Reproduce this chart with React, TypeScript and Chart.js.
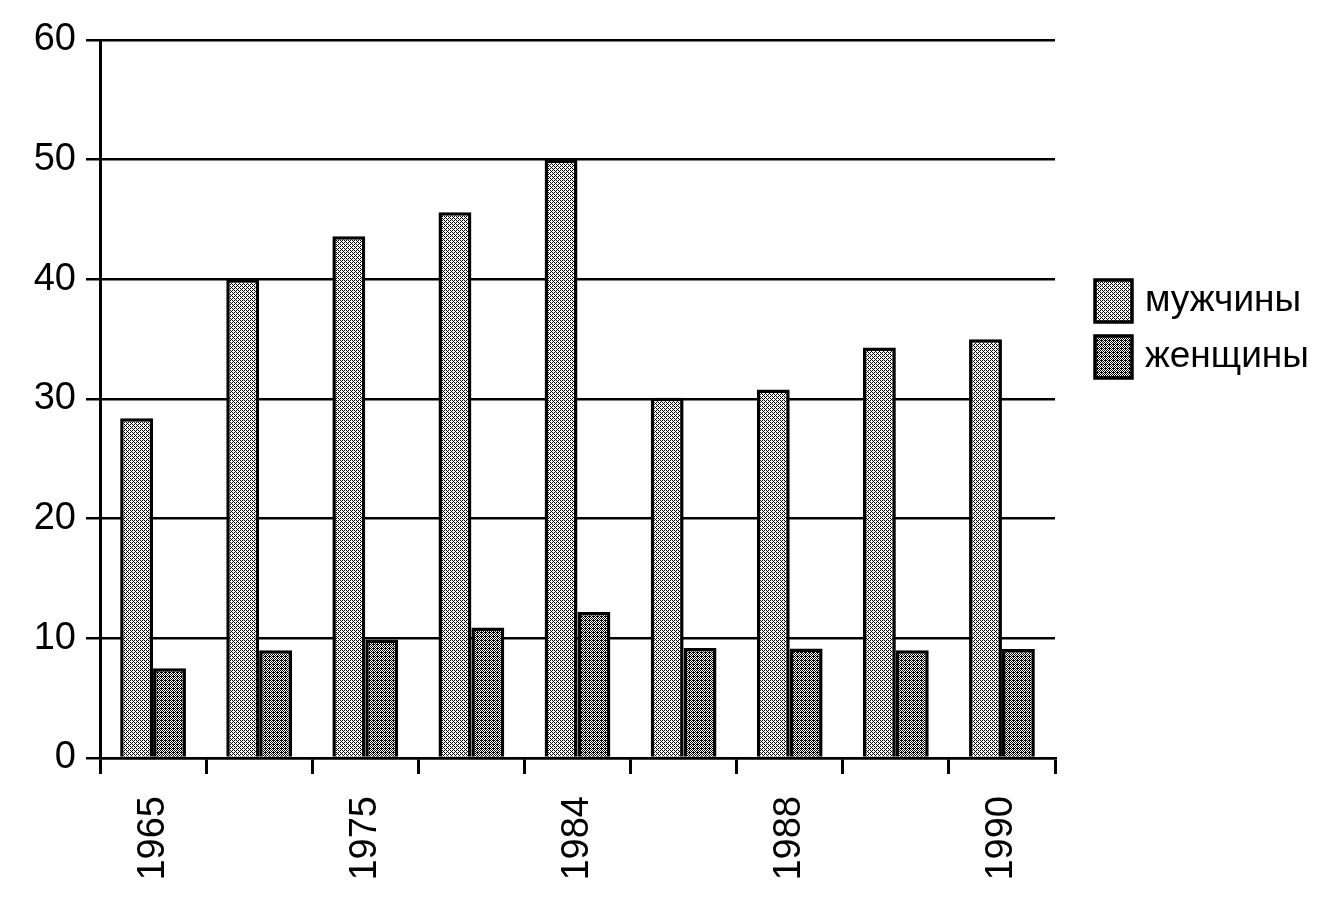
import React, { useEffect, useRef } from "react";
import { Chart, registerables } from "chart.js";

Chart.register(...registerables);

const categories = ["1965", "", "1975", "", "1984", "", "1988", "", "1990"];
const menValues = [28.4, 40, 43.6, 45.6, 50, 30.1, 30.8, 34.3, 35.0];
const womenValues = [7.5, 9.0, 9.9, 10.9, 12.2, 9.2, 9.15, 9.0, 9.1];
const seriesNames = ["мужчины", "женщины"];
const yTicks = [0, 10, 20, 30, 40, 50, 60];

const FONT = "'Liberation Sans', Arial, sans-serif";

function makePattern(threshold: number): CanvasPattern | string {
  const bayer = [
    [0, 8, 2, 10],
    [12, 4, 14, 6],
    [3, 11, 1, 9],
    [15, 7, 13, 5],
  ];
  const c = document.createElement("canvas");
  c.width = 4;
  c.height = 4;
  const ctx = c.getContext("2d");
  if (!ctx) return "#999";
  ctx.fillStyle = "#ffffff";
  ctx.fillRect(0, 0, 4, 4);
  ctx.fillStyle = "#000000";
  for (let y = 0; y < 4; y++) {
    for (let x = 0; x < 4; x++) {
      if (bayer[y][x] < threshold) ctx.fillRect(x, y, 1, 1);
    }
  }
  const p = ctx.createPattern(c, "repeat");
  return p || "#999";
}

export default function App() {
  const ref = useRef<HTMLCanvasElement | null>(null);

  useEffect(() => {
    if (!ref.current) return;
    const menFill = makePattern(6);
    const womenFill = makePattern(9);
    const fills = [menFill, womenFill];

    const legendPlugin = {
      id: "customLegend",
      afterDraw(chart: any) {
        const ctx = chart.ctx as CanvasRenderingContext2D;
        ctx.save();
        seriesNames.forEach((name, i) => {
          const bx = 1095;
          const by = 280 + i * 56;
          ctx.fillStyle = fills[i] as any;
          ctx.fillRect(bx, by, 37, 42);
          ctx.lineWidth = 3.5;
          ctx.strokeStyle = "#000";
          ctx.strokeRect(bx, by, 37, 42);
          ctx.fillStyle = "#000";
          ctx.font = `37px ${FONT}`;
          ctx.textBaseline = "middle";
          ctx.textAlign = "left";
          ctx.fillText(name, 1145, by + 21);
        });
        ctx.restore();
      },
    };

    const chart = new Chart(ref.current, {
      type: "bar",
      data: {
        labels: categories,
        datasets: [
          {
            label: seriesNames[0],
            data: menValues,
            backgroundColor: menFill as any,
            borderColor: "#000",
            borderWidth: 3.5,
            categoryPercentage: 0.62,
            barPercentage: 1.0,
          },
          {
            label: seriesNames[1],
            data: womenValues,
            backgroundColor: womenFill as any,
            borderColor: "#000",
            borderWidth: 3.5,
            categoryPercentage: 0.62,
            barPercentage: 1.0,
          },
        ],
      },
      options: {
        animation: false,
        responsive: false,
        devicePixelRatio: 1,
        layout: { padding: { top: 40, right: 288, bottom: 0, left: 0 } },
        plugins: {
          legend: { display: false },
          tooltip: { enabled: false },
        },
        scales: {
          x: {
            grid: {
              display: true,
              drawOnChartArea: false,
              drawTicks: true,
              tickLength: 16,
              color: "#000",
              lineWidth: 3,
              offset: true,
            },
            border: { display: true, color: "#000", width: 2.5 },
            ticks: {
              autoSkip: false,
              minRotation: 90,
              maxRotation: 90,
              padding: 22,
              color: "#000",
              font: { family: FONT, size: 38 },
            },
            afterFit: (scale: any) => {
              scale.height = 143;
            },
          },
          y: {
            min: 0,
            max: 60,
            afterBuildTicks: (scale: any) => {
              scale.ticks = yTicks.map((v) => ({ value: v }));
            },
            grid: {
              color: "#000",
              lineWidth: 2.5,
              drawTicks: true,
              tickLength: 14,
            },
            border: { display: true, color: "#000", width: 3 },
            ticks: {
              padding: 10,
              color: "#000",
              font: { family: FONT, size: 38 },
            },
            afterFit: (scale: any) => {
              scale.width = 100;
            },
          },
        },
      },
      plugins: [legendPlugin],
    });
    return () => chart.destroy();
  }, []);

  return (
    <div style={{ position: "fixed", left: 0, top: 0, width: 1343, height: 901, background: "#fff" }}>
      <canvas ref={ref} width={1343} height={901} />
    </div>
  );
}
